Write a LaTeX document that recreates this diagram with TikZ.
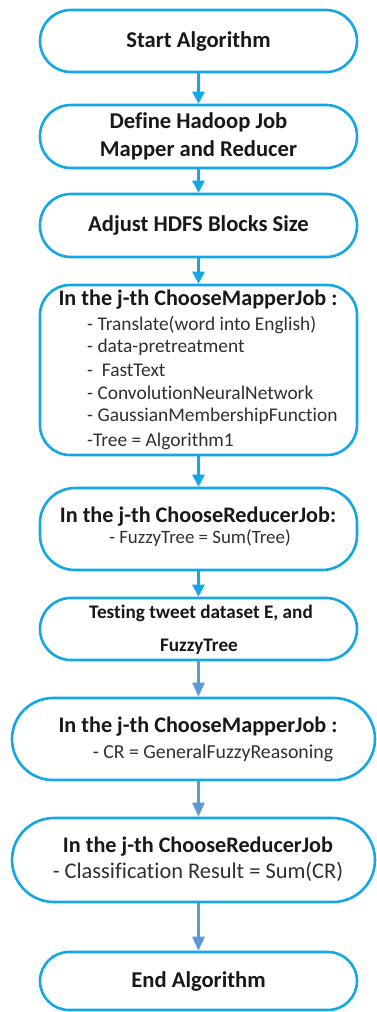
\documentclass[tikz,border=0pt]{standalone}
\usepackage{fontspec}
\setmainfont{Carlito}[Ligatures=NoCommon]
\usetikzlibrary{arrows.meta}
\definecolor{flowcyan}{RGB}{18,168,230}
\definecolor{flowsteel}{RGB}{91,155,213}
\definecolor{headink}{RGB}{24,24,24}
\definecolor{bodyink}{RGB}{48,48,48}
\begin{document}
\begin{tikzpicture}[x=1pt,y=-1pt,
  flowbox/.style={draw=flowcyan, line width=2.6pt, fill=white, rectangle,
    minimum width=317pt, inner sep=0pt, align=center},
  headtext/.style={inner sep=0pt, text=headink, font=\fontsize{22.2}{26}\selectfont\bfseries},
  bigtext/.style={text=headink, font=\fontsize{22.6}{28}\selectfont\bfseries},
  bodytext/.style={inner sep=0pt, text=bodyink, font=\fontsize{19.4}{23}\selectfont},
  cyanarrow/.style={draw=flowcyan, line width=2.4pt, -{Triangle[width=12pt,length=12pt]}},
  steelarrow/.style={draw=flowsteel, line width=2.4pt, -{Triangle[width=12pt,length=14pt]}}
]
\useasboundingbox (0,0) rectangle (377,1012);
\fill[white] (0,0) rectangle (377,1012);

% start / setup steps
\node[flowbox, bigtext, minimum height=62pt, rounded corners=31pt] (start) at (198.5,41) {Start Algorithm};
\node[flowbox, bigtext, minimum height=63pt, rounded corners=31pt] (define) at (198.5,136.5)
  {Define Hadoop Job\\Mapper and Reducer};
\node[flowbox, bigtext, minimum height=63pt, rounded corners=31pt] (hdfs) at (198.5,225.5) {Adjust HDFS Blocks Size};

% training mapper
\node[flowbox, minimum height=170pt, rounded corners=30pt] (map1) at (198.5,370) {};
\node[headtext] (map1h) at (198,300) {In the j-th ChooseMapperJob :};
\node[bodytext, anchor=west] (m1a) at (87,325) {- Translate(word into English)};
\node[bodytext, anchor=west] (m1b) at (87,347.5) {- data-pretreatment};
\node[bodytext, anchor=west] (m1c) at (87,370) {-\ \ FastText};
\node[bodytext, anchor=west] (m1d) at (87,393) {- ConvolutionNeuralNetwork};
\node[bodytext, anchor=west] (m1e) at (87,416) {- GaussianMembershipFunction};
\node[bodytext, anchor=west] (m1f) at (87,441) {-Tree = Algorithm1};

% training reducer
\node[flowbox, minimum height=82pt, rounded corners=35pt] (red1) at (198.5,529) {};
\node[headtext] (red1h) at (198,517) {In the j-th ChooseReducerJob:};
\node[bodytext, font=\fontsize{18.9}{22}\selectfont] (red1b) at (200,538) {- FuzzyTree = Sum(Tree)};

% testing input
\node[flowbox, minimum height=62pt, rounded corners=31pt] (test) at (198.5,629) {};
\node[headtext, font=\fontsize{19.2}{22}\selectfont\bfseries] (testa) at (201,613) {Testing tweet dataset E, and};
\node[headtext, font=\fontsize{19.2}{22}\selectfont\bfseries] (testb) at (199,647) {FuzzyTree};

% testing mapper
\node[flowbox, minimum width=363pt, minimum height=82pt, rounded corners=41pt] (map2) at (193.5,739) {};
\node[headtext] (map2h) at (198,727) {In the j-th ChooseMapperJob :};
\node[bodytext, font=\fontsize{19.8}{23}\selectfont] (map2b) at (213,753) {- CR = GeneralFuzzyReasoning};

% testing reducer
\node[flowbox, minimum width=363pt, minimum height=84pt, rounded corners=42pt] (red2) at (193.5,860) {};
\node[headtext] (red2h) at (198,847) {In the j-th ChooseReducerJob};
\node[bodytext, font=\fontsize{22.4}{26}\selectfont] (red2b) at (198,872) {- Classification Result = Sum(CR)};

% end
\node[flowbox, bigtext, minimum height=58pt, rounded corners=29pt] (finish) at (198.5,981) {End Algorithm};

% connectors
\draw[cyanarrow] (start) -- (define);
\draw[cyanarrow] (define) -- (hdfs);
\draw[cyanarrow] (hdfs) -- (map1);
\draw[cyanarrow] (map1) -- (red1);
\draw[cyanarrow] (red1) -- (test);
\draw[steelarrow] (test) -- (map2.north -| test.south);
\draw[steelarrow] (map2.south -| test.south) -- (red2.north -| test.south);
\draw[steelarrow] (red2.south -| test.south) -- (finish);
\end{tikzpicture}
\end{document}
